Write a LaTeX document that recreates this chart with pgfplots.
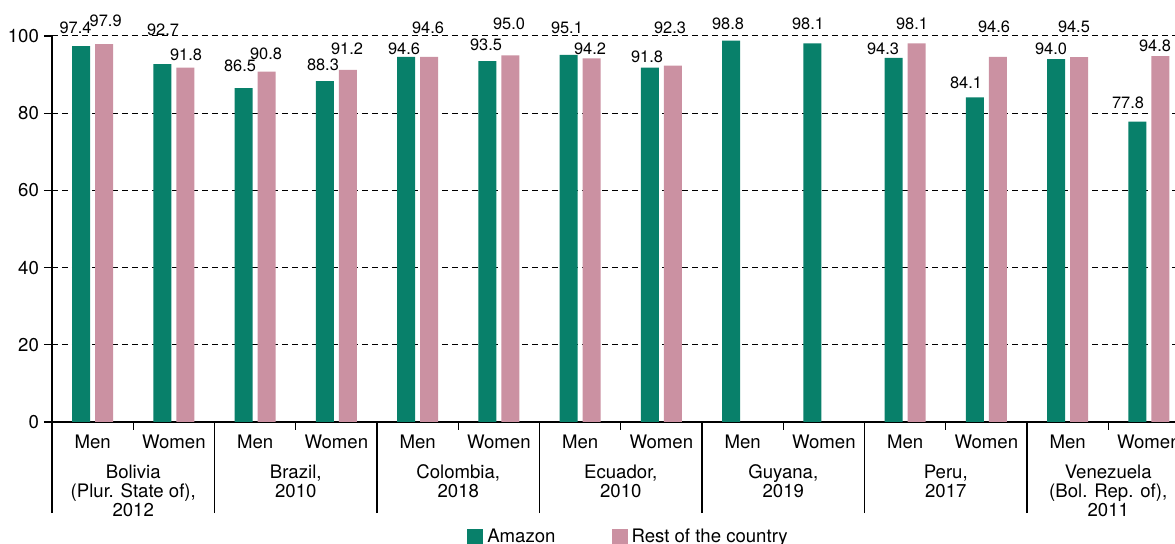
\documentclass[border=0pt]{standalone}
\usepackage{fontspec}
\setmainfont{TeX Gyre Heros}
\usepackage{pgfplots}
\pgfplotsset{compat=1.18}
\definecolor{amazon}{HTML}{08806A}
\definecolor{rest}{HTML}{CB91A2}
\newcommand{\bl}{\fontsize{8.2}{9}\selectfont}
\begin{document}
\begin{tikzpicture}
\begin{axis}[
  scale only axis, width=568.75pt, height=193pt,
  xmin=-0.5, xmax=13.5, ymin=0, ymax=100,
  axis x line*=bottom, axis y line*=left,
  axis line style={-, line width=0.6pt},
  tick align=outside, major tick length=4pt, minor tick length=45.5pt,
  tick style={black, line width=0.6pt},
  ytick={0,20,...,100},
  ymajorgrids, grid style={black, line width=0.5pt, dash pattern=on 3pt off 2pt},
  yticklabel style={font=\fontsize{9.3}{10}\selectfont, xshift=1pt},
  /pgf/number format/assume math mode=true,
  xtick={0.5,2.5,...,12.5},
  xticklabels={{Bolivia\\(Plur. State of),\\2012},{Brazil,\\2010},{Colombia,\\2018},{Ecuador,\\2010},{Guyana,\\2019},{Peru,\\2017},{Venezuela\\(Bol. Rep. of),\\2011}},
  xticklabel style={align=center, font=\fontsize{9.3}{9.5}\selectfont, yshift=-14pt},
  minor xtick={-0.5,1.5,...,13.5},
  extra x ticks={0,1,...,13},
  extra x tick labels={Men,Women,Men,Women,Men,Women,Men,Women,Men,Women,Men,Women,Men,Women},
  extra x tick style={major tick length=0pt, xticklabel style={yshift=11pt}},
  ybar=2.5pt, bar width=9pt,
  clip=false,
  legend style={draw=none, fill=none, legend columns=2, at={(rel axis cs:0.5077,-0.298)}, anchor=center,
    font=\fontsize{9.3}{10}\selectfont, /tikz/every even column/.append style={column sep=26pt}},
]
\addplot[fill=amazon, draw=none, legend image code/.code={\fill[amazon] (0pt,-4pt) rectangle (8pt,4pt);}] coordinates {
(0,97.4) (1,92.7) (2,86.5) (3,88.3) (4,94.6) (5,93.5) (6,95.1) (7,91.8) (8,98.8) (9,98.1) (10,94.3) (11,84.1) (12,94.0) (13,77.8)};
\addplot[fill=rest, draw=none, legend image code/.code={\fill[rest] (0pt,-4pt) rectangle (8pt,4pt);}] coordinates {
(0,97.9) (1,91.8) (2,90.8) (3,91.2) (4,94.6) (5,95.0) (6,94.2) (7,92.3) (10,98.1) (11,94.6) (12,94.5) (13,94.8)};
\legend{Amazon,Rest of the country}
\node[font=\bl] at (axis cs:-0.211,102.1) {97.4};
\node[font=\bl] at (axis cs:0.161,104.0) {97.9};
\node[font=\bl] at (axis cs:0.866,101.7) {92.7};
\node[font=\bl] at (axis cs:1.149,95.1) {91.8};
\node[font=\bl] at (axis cs:1.814,92.3) {86.5};
\node[font=\bl] at (axis cs:2.134,95.5) {90.8};
\node[font=\bl] at (axis cs:2.835,92.5) {88.3};
\node[font=\bl] at (axis cs:3.131,96.8) {91.2};
\node[font=\bl] at (axis cs:3.832,96.6) {94.6};
\node[font=\bl] at (axis cs:4.128,102.2) {94.6};
\node[font=\bl] at (axis cs:4.842,97.8) {93.5};
\node[font=\bl] at (axis cs:5.125,103.1) {95.0};
\node[font=\bl] at (axis cs:5.838,102.0) {95.1};
\node[font=\bl] at (axis cs:6.122,96.8) {94.2};
\node[font=\bl] at (axis cs:6.823,94.6) {91.8};
\node[font=\bl] at (axis cs:7.106,102.0) {92.3};
\node[font=\bl] at (axis cs:7.82,103.1) {98.8};
\node[font=\bl] at (axis cs:8.805,103.1) {98.1};
\node[font=\bl] at (axis cs:9.728,96.6) {94.3};
\node[font=\bl] at (axis cs:10.085,103.1) {98.1};
\node[font=\bl] at (axis cs:10.749,87.9) {84.1};
\node[font=\bl] at (axis cs:11.094,102.4) {94.6};
\node[font=\bl] at (axis cs:11.795,96.6) {94.0};
\node[font=\bl] at (axis cs:12.078,102.4) {94.5};
\node[font=\bl] at (axis cs:12.743,82.8) {77.8};
\node[font=\bl] at (axis cs:13.075,97.4) {94.8};
\end{axis}
\pgfresetboundingbox
\useasboundingbox (-26pt,-61pt) rectangle (561.5pt,211pt);
\end{tikzpicture}
\end{document}
